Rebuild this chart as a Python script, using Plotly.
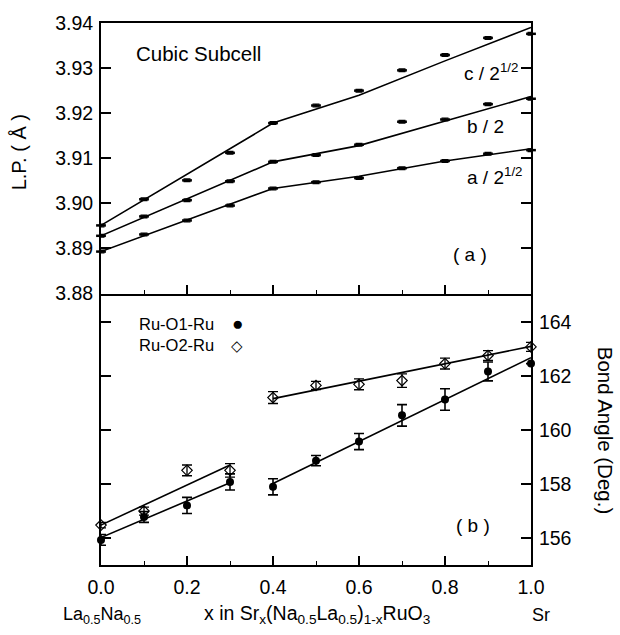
import plotly.graph_objects as go

# ---------------- data ----------------
x_vals = [0.0, 0.1, 0.2, 0.3, 0.4, 0.5, 0.6, 0.7, 0.8, 0.9, 1.0]

# Panel (a): lattice parameters (Angstrom)
c_half = [3.8951, 3.9009, 3.9051, 3.9112, 3.9178, 3.9217, 3.9250, 3.9295, 3.9329, 3.9367, 3.9376]
b_half = [3.8928, 3.8971, 3.9007, 3.9049, 3.9092, 3.9107, 3.9130, 3.9181, 3.9186, 3.9220, 3.9232]
a_half = [3.8893, 3.8931, 3.8962, 3.8995, 3.9033, 3.9047, 3.9056, 3.9078, 3.9094, 3.9110, 3.9118]
lp_err = [0.0003] * 11

# fit curves panel (a)
fit_x_a = [0.0, 0.4, 0.6, 0.8, 1.0]
c_fit = [3.8951, 3.9178, 3.9240, 3.9316, 3.9390]
b_fit = [3.8928, 3.9092, 3.9128, 3.9183, 3.9237]
a_fit = [3.8893, 3.9033, 3.9060, 3.9094, 3.9121]

# Panel (b): bond angles (deg)
o1_angle = [155.93, 156.78, 157.21, 158.08, 157.90, 158.87, 159.58, 160.55, 161.14, 162.18, 162.47]
o1_err = [0.2, 0.2, 0.3, 0.3, 0.3, 0.19, 0.3, 0.4, 0.4, 0.35, 0.0]
o2_angle = [156.48, 157.0, 158.51, 158.51, 161.21, 161.66, 161.70, 161.84, 162.47, 162.77, 163.09]
o2_err = [0.1, 0.15, 0.2, 0.25, 0.22, 0.15, 0.2, 0.25, 0.2, 0.18, 0.17]

# fit lines panel (b)
fit_left_x = [0.0, 0.3]
fit_right_x = [0.4, 1.0]
o1_fit_left = [156.02, 158.05]
o2_fit_left = [156.48, 158.71]
o1_fit_right = [158.02, 162.69]
o2_fit_right = [161.17, 163.11]

lp_ticks = [3.88, 3.89, 3.90, 3.91, 3.92, 3.93, 3.94]
angle_ticks = [156, 158, 160, 162, 164]

FONT = "Liberation Sans, Arial, sans-serif"
BLACK = "black"

fig = go.Figure()

# ---- panel (a) ----
for yv, yf in [(c_half, c_fit), (b_half, b_fit), (a_half, a_fit)]:
    fig.add_trace(go.Scatter(x=fit_x_a, y=yf, mode="lines", xaxis="x2", yaxis="y2",
                             line=dict(color=BLACK, width=1.6), showlegend=False, cliponaxis=False))
    fig.add_trace(go.Scatter(x=x_vals, y=yv, mode="markers", xaxis="x2", yaxis="y2",
                             marker=dict(symbol="line-ew", size=7, line=dict(color=BLACK, width=2.5)),
                             error_y=dict(type="data", array=lp_err, color=BLACK, thickness=1.3, width=3.5),
                             showlegend=False, cliponaxis=False))

# ---- panel (b) ----
for xf, yf in [(fit_left_x, o1_fit_left), (fit_left_x, o2_fit_left),
               (fit_right_x, o1_fit_right), (fit_right_x, o2_fit_right)]:
    fig.add_trace(go.Scatter(x=xf, y=yf, mode="lines", xaxis="x", yaxis="y",
                             line=dict(color=BLACK, width=1.6), showlegend=False, cliponaxis=False))

fig.add_trace(go.Scatter(x=x_vals, y=o2_angle, mode="markers", xaxis="x", yaxis="y",
                         marker=dict(symbol="diamond-open", size=8, color=BLACK, line=dict(width=1.2)),
                         error_y=dict(type="data", array=o2_err, color=BLACK, thickness=1.3, width=5),
                         showlegend=False, cliponaxis=False))
fig.add_trace(go.Scatter(x=x_vals, y=o1_angle, mode="markers", xaxis="x", yaxis="y",
                         marker=dict(symbol="circle", size=8, color=BLACK),
                         error_y=dict(type="data", array=o1_err, color=BLACK, thickness=1.6, width=5),
                         showlegend=False, cliponaxis=False))

SPLIT = 0.5009
tickfont = dict(family=FONT, size=19.5, color=BLACK)

fig.update_layout(
    width=620, height=635,
    margin=dict(l=101, r=89, t=12, b=70, pad=0),
    paper_bgcolor="white", plot_bgcolor="white",
    font=dict(family=FONT, color=BLACK),
    showlegend=False,
    xaxis=dict(domain=[0, 1], anchor="y", range=[0, 1.0], dtick=0.2, tick0=0, tickformat=".1f",
               ticks="inside", ticklen=9, tickwidth=1.5, tickcolor=BLACK,
               minor=dict(dtick=0.1, tick0=0, ticks="inside", ticklen=4, tickwidth=1.2, tickcolor=BLACK),
               showline=True, linecolor=BLACK, linewidth=2, mirror=False,
               showgrid=False, zeroline=False, tickfont=tickfont, ticklabelstandoff=4),
    xaxis2=dict(domain=[0, 1], anchor="y2", matches="x", range=[0, 1.0], dtick=0.2, tick0=0,
                showticklabels=False,
                ticks="inside", ticklen=9, tickwidth=1.5, tickcolor=BLACK,
                minor=dict(dtick=0.1, tick0=0, ticks="inside", ticklen=4, tickwidth=1.2, tickcolor=BLACK),
                showline=True, linecolor=BLACK, linewidth=2, mirror=True,
                showgrid=False, zeroline=False),
    yaxis=dict(domain=[0, SPLIT], anchor="x", side="right", range=[155.0, 165.07],
               tickvals=angle_ticks, ticks="inside", ticklen=10, tickwidth=1.5, tickcolor=BLACK,
               showline=True, linecolor=BLACK, linewidth=2, mirror="ticks",
               showgrid=False, zeroline=False, tickfont=tickfont, ticklabelstandoff=2),
    yaxis2=dict(domain=[SPLIT, 1], anchor="x2", side="left", range=[3.88, 3.94],
                tickvals=lp_ticks, tickformat=".2f", ticks="inside", ticklen=10, tickwidth=1.5,
                tickcolor=BLACK, showline=True, linecolor=BLACK, linewidth=2, mirror="ticks",
                showgrid=False, zeroline=False, tickfont=tickfont, ticklabelstandoff=2),
)

def px2paper(px, py):
    return (px - 101) / 430.0, (565 - py) / 553.0

def ann(text, px, py, size=19, xanchor="center", yanchor="middle", angle=0):
    xp, yp = px2paper(px, py)
    fig.add_annotation(text=text, x=xp, y=yp, xref="paper", yref="paper",
                       xanchor=xanchor, yanchor=yanchor, showarrow=False, textangle=angle,
                       font=dict(family=FONT, size=size, color=BLACK))

ann("Cubic Subcell", 198, 43, size=20.5)
ann("c / 2<sup>1/2</sup>", 462, 62, size=19, xanchor="left")
ann("b / 2", 465, 118, size=19, xanchor="left")
ann("a / 2<sup>1/2</sup>", 465, 168, size=19, xanchor="left")
ann("( a )", 470, 248, size=19)
ann("( b )", 473, 525, size=19)
ann("Ru-O1-Ru", 137, 319, size=16.5, xanchor="left")
ann("●", 237, 319, size=19)
ann("Ru-O2-Ru", 137, 341, size=16.5, xanchor="left")
ann("◇", 237, 341, size=15)
ann("La<sub>0.5</sub>Na<sub>0.5</sub>", 102, 617, size=18)
ann("x in Sr<sub>x</sub>(Na<sub>0.5</sub>La<sub>0.5</sub>)<sub>1-x</sub>RuO<sub>3</sub>", 317, 616, size=19.5)
ann("Sr", 541, 616, size=18)
ann("Bond Angle (Deg.)", 605, 428, size=20.5, angle=90)
ann("L.P. ( Å )", 19, 144, size=20, angle=-90)

fig.write_html("out.html")
